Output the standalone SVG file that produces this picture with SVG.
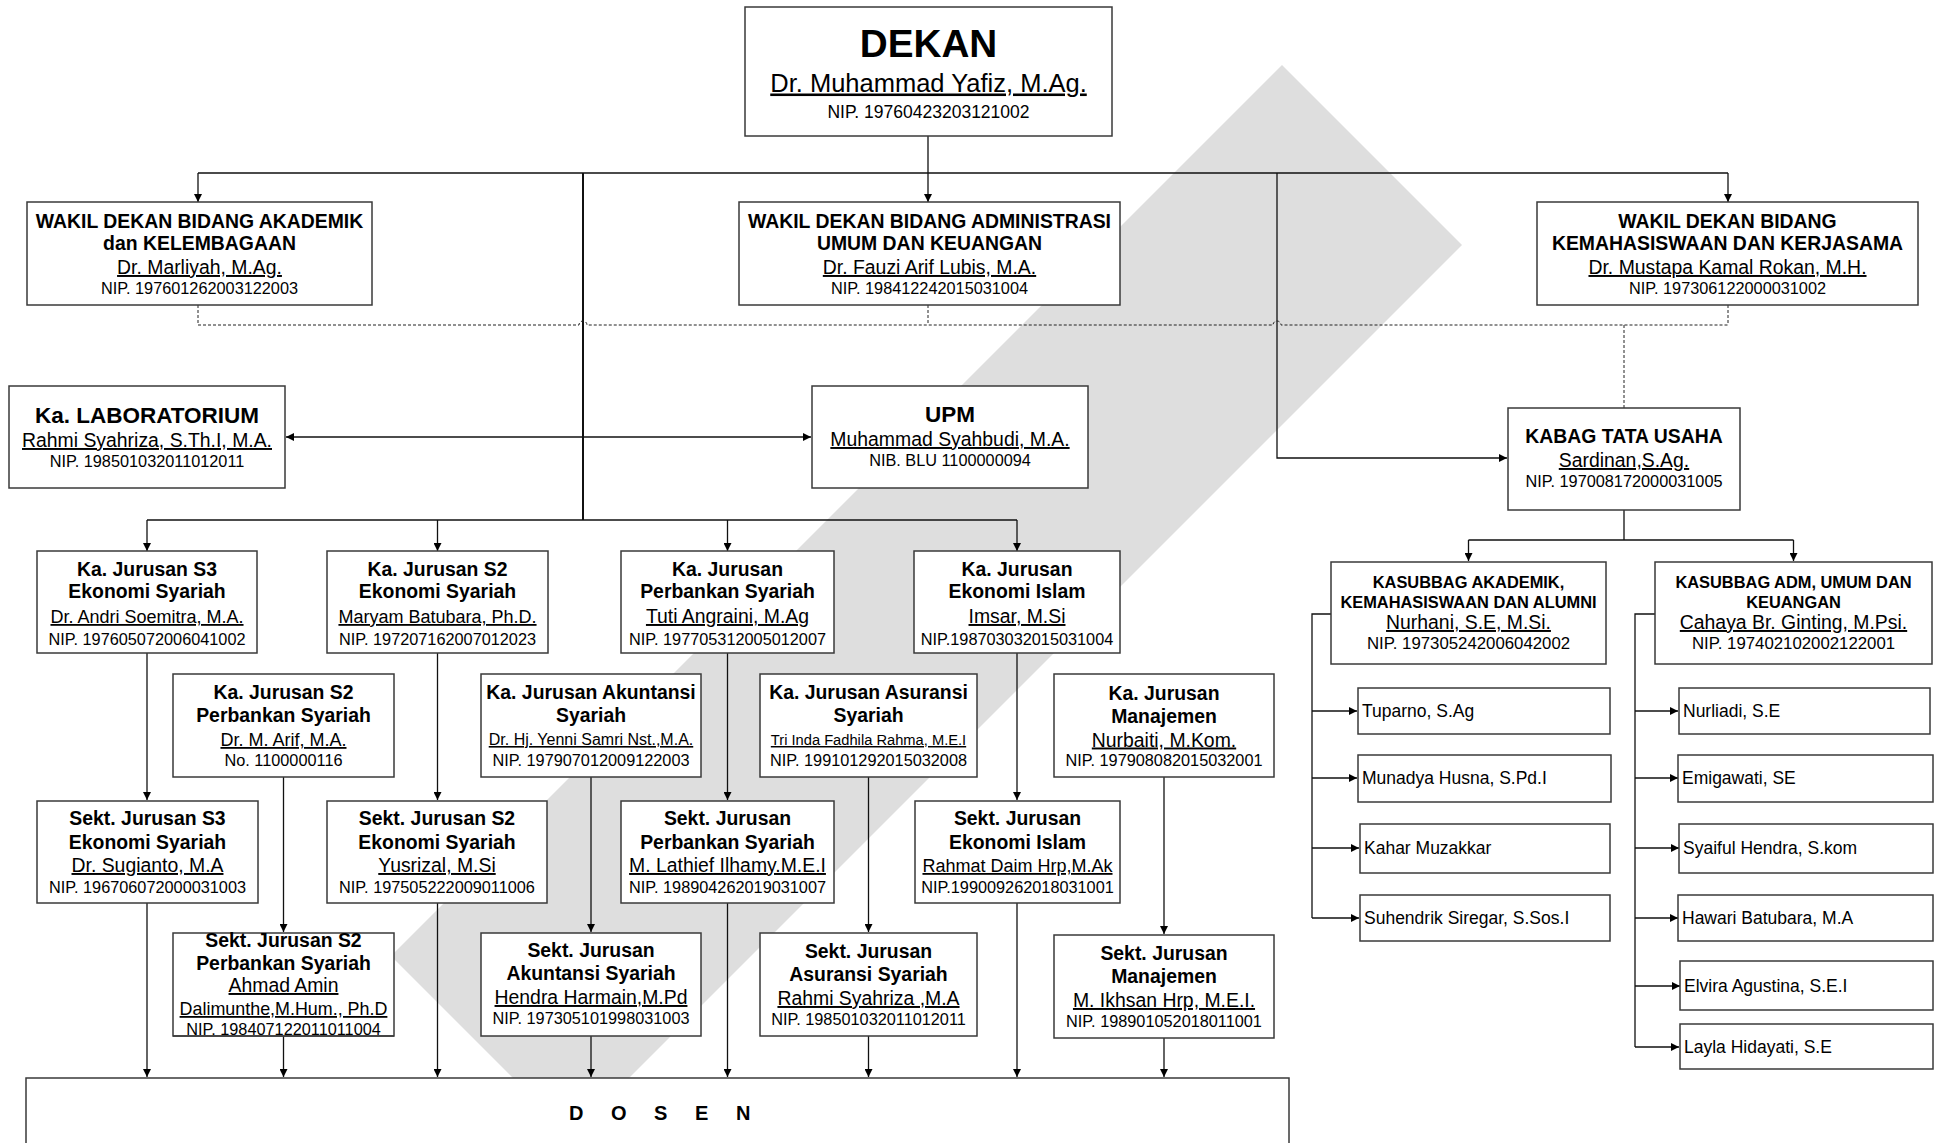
<svg xmlns="http://www.w3.org/2000/svg" width="1940" height="1143" viewBox="0 0 1940 1143">
<defs>
<marker id="ah" viewBox="0 0 10 10" refX="10" refY="5" markerWidth="9" markerHeight="8" markerUnits="userSpaceOnUse" orient="auto"><path d="M0,0 L10,5 L0,10 z" fill="#000"/></marker>
<style>
.b{fill:#fff;stroke:#3a3a3a;stroke-width:1.5}
text{font-family:"Liberation Sans",Arial,sans-serif;fill:#000;text-anchor:middle}
.t{font-weight:bold;font-size:19.4px}
.n{font-size:19.4px;text-decoration:underline}
.p{font-size:16.3px}
.s{font-size:17.5px;text-anchor:start}
.c{fill:none;stroke:#111;stroke-width:1.3}
.a{marker-end:url(#ah)}
.d{fill:none;stroke:#222;stroke-width:1;stroke-dasharray:3,2}
</style>
</defs>
<rect width="1940" height="1143" fill="#fff"/>
<polygon id="watermark" points="1282,65 1462,245 571,1136 391,956" fill="#dedede"/>

<g id="connectors">
<path class="c" d="M928,136 V173 M198,173 H1728"/>
<path class="c a" d="M198,173 V202"/>
<path class="c a" d="M928,173 V202"/>
<path class="c a" d="M1728,173 V202"/>
<path class="c" style="stroke-width:2" d="M583,173 V520"/>
<path class="c" d="M147,520 H1017"/>
<path class="c a" d="M147,520 V551"/>
<path class="c a" d="M437.5,520 V551"/>
<path class="c a" d="M727.5,520 V551"/>
<path class="c a" d="M1017,520 V551"/>
<path class="c a" d="M583,437 H286"/>
<path class="c a" d="M583,437 H811"/>
<path class="c a" d="M1277,173 V458 H1507"/>
<path class="d" d="M198,305 V325 M928,305 V325 M1728,305 V325 M198,325 H579 A4,4 0 0 1 587,325 H1273 A4,4 0 0 1 1281,325 H1728 M1624,325 V408"/>
<path class="c" d="M1624,510 V540 M1468.5,540 H1793.5"/>
<path class="c a" d="M1468.5,540 V561"/>
<path class="c a" d="M1793.5,540 V561"/>
<path class="c" d="M1331,614 H1312 V918"/>
<path class="c a" d="M1312,711 H1357"/>
<path class="c a" d="M1312,778 H1357"/>
<path class="c a" d="M1312,848 H1359"/>
<path class="c a" d="M1312,918 H1359"/>
<path class="c" d="M1655,614 H1635 V1047"/>
<path class="c a" d="M1635,711 H1678"/>
<path class="c a" d="M1635,778 H1678"/>
<path class="c a" d="M1635,848 H1679"/>
<path class="c a" d="M1635,918 H1678"/>
<path class="c a" d="M1635,986 H1680"/>
<path class="c a" d="M1635,1047 H1679"/>
<path class="c a" d="M147,653 V800"/>
<path class="c a" d="M437.5,653 V800"/>
<path class="c a" d="M727.5,653 V800"/>
<path class="c a" d="M1017,653 V800"/>
<path class="c a" d="M283.5,777 V932"/>
<path class="c a" d="M591,777 V932"/>
<path class="c a" d="M868.5,777 V932"/>
<path class="c a" d="M1164,777 V934"/>
<path class="c a" d="M147,903 V1077"/>
<path class="c a" d="M437.5,903 V1077"/>
<path class="c a" d="M727.5,903 V1077"/>
<path class="c a" d="M1017,903 V1077"/>
<path class="c a" d="M283.5,1036 V1077"/>
<path class="c a" d="M591,1036 V1077"/>
<path class="c a" d="M868.5,1036 V1077"/>
<path class="c a" d="M1164,1038 V1077"/>
</g>

<g id="dekan">
<rect class="b" x="745" y="7" width="367" height="129"/>
<text x="928.5" y="56.5" style="font-weight:bold;font-size:38.7px">DEKAN</text>
<text x="928.5" y="91.5" class="n" style="font-size:25.5px">Dr. Muhammad Yafiz, M.Ag.</text>
<text x="928.5" y="118" class="p" style="font-size:17.5px">NIP. 19760423203121002</text>
</g>

<g id="wakil1">
<rect class="b" x="27" y="202" width="345" height="103"/>
<text x="199.5" y="228" class="t">WAKIL DEKAN BIDANG AKADEMIK</text>
<text x="199.5" y="250" class="t">dan KELEMBAGAAN</text>
<text x="199.5" y="274" class="n">Dr. Marliyah, M.Ag.</text>
<text x="199.5" y="294" class="p">NIP. 197601262003122003</text>
</g>
<g id="wakil2">
<rect class="b" x="739" y="202" width="381" height="103"/>
<text x="929.5" y="228" class="t">WAKIL DEKAN BIDANG ADMINISTRASI</text>
<text x="929.5" y="250" class="t">UMUM DAN KEUANGAN</text>
<text x="929.5" y="274" class="n">Dr. Fauzi Arif Lubis, M.A.</text>
<text x="929.5" y="294" class="p">NIP. 198412242015031004</text>
</g>
<g id="wakil3">
<rect class="b" x="1537" y="202" width="381" height="103"/>
<text x="1727.5" y="228" class="t">WAKIL DEKAN BIDANG</text>
<text x="1727.5" y="250" class="t">KEMAHASISWAAN DAN KERJASAMA</text>
<text x="1727.5" y="274" class="n">Dr. Mustapa Kamal Rokan, M.H.</text>
<text x="1727.5" y="294" class="p">NIP. 197306122000031002</text>
</g>

<g id="lab">
<rect class="b" x="9" y="386" width="276" height="102"/>
<text x="147" y="423" class="t" style="font-size:22.5px">Ka. LABORATORIUM</text>
<text x="147" y="447" class="n">Rahmi Syahriza, S.Th.I, M.A.</text>
<text x="147" y="467" class="p">NIP. 198501032011012011</text>
</g>
<g id="upm">
<rect class="b" x="812" y="386" width="276" height="102"/>
<text x="950" y="422" class="t" style="font-size:22.5px">UPM</text>
<text x="950" y="446" class="n">Muhammad Syahbudi, M.A.</text>
<text x="950" y="466" class="p">NIB. BLU 1100000094</text>
</g>
<g id="kabag">
<rect class="b" x="1508" y="408" width="232" height="102"/>
<text x="1624" y="443" class="t">KABAG TATA USAHA</text>
<text x="1624" y="467" class="n">Sardinan,S.Ag.</text>
<text x="1624" y="487" class="p">NIP. 197008172000031005</text>
</g>

<g id="ka-s3">
<rect class="b" x="37" y="551" width="220" height="102"/>
<text x="147" y="576" class="t">Ka. Jurusan S3</text>
<text x="147" y="598" class="t">Ekonomi Syariah</text>
<text x="147" y="623" class="n" style="font-size:18px">Dr. Andri Soemitra, M.A.</text>
<text x="147" y="645" class="p">NIP. 197605072006041002</text>
</g>
<g id="ka-s2">
<rect class="b" x="327" y="551" width="221" height="102"/>
<text x="437.5" y="576" class="t">Ka. Jurusan S2</text>
<text x="437.5" y="598" class="t">Ekonomi Syariah</text>
<text x="437.5" y="623" class="n" style="font-size:18px">Maryam Batubara, Ph.D.</text>
<text x="437.5" y="645" class="p">NIP. 197207162007012023</text>
</g>
<g id="ka-perbankan">
<rect class="b" x="621" y="551" width="213" height="102"/>
<text x="727.5" y="576" class="t">Ka. Jurusan</text>
<text x="727.5" y="598" class="t">Perbankan Syariah</text>
<text x="727.5" y="623" class="n">Tuti Angraini, M.Ag</text>
<text x="727.5" y="645" class="p">NIP. 197705312005012007</text>
</g>
<g id="ka-ekonomi-islam">
<rect class="b" x="914" y="551" width="206" height="102"/>
<text x="1017" y="576" class="t">Ka. Jurusan</text>
<text x="1017" y="598" class="t">Ekonomi Islam</text>
<text x="1017" y="623" class="n">Imsar, M.Si</text>
<text x="1017" y="645" class="p">NIP.198703032015031004</text>
</g>

<g id="kasubbag1">
<rect class="b" x="1331" y="562" width="275" height="102"/>
<text x="1468.5" y="588" class="t" style="font-size:16.4px">KASUBBAG AKADEMIK,</text>
<text x="1468.5" y="608" class="t" style="font-size:16.4px">KEMAHASISWAAN DAN ALUMNI</text>
<text x="1468.5" y="629" class="n">Nurhani, S.E, M.Si.</text>
<text x="1468.5" y="649" class="p" style="font-size:16.8px">NIP. 197305242006042002</text>
</g>
<g id="kasubbag2">
<rect class="b" x="1655" y="562" width="277" height="102"/>
<text x="1793.5" y="588" class="t" style="font-size:16.4px">KASUBBAG ADM, UMUM DAN</text>
<text x="1793.5" y="608" class="t" style="font-size:16.4px">KEUANGAN</text>
<text x="1793.5" y="629" class="n">Cahaya Br. Ginting, M.Psi.</text>
<text x="1793.5" y="649" class="p" style="font-size:16.8px">NIP. 197402102002122001</text>
</g>

<g id="ka-s2-perbankan">
<rect class="b" x="173" y="674" width="221" height="103"/>
<text x="283.5" y="699" class="t">Ka. Jurusan S2</text>
<text x="283.5" y="721.5" class="t">Perbankan Syariah</text>
<text x="283.5" y="746" class="n" style="font-size:18px">Dr. M. Arif, M.A.</text>
<text x="283.5" y="766" class="p">No. 1100000116</text>
</g>
<g id="ka-akuntansi">
<rect class="b" x="481" y="674" width="220" height="103"/>
<text x="591" y="699" class="t">Ka. Jurusan Akuntansi</text>
<text x="591" y="721.5" class="t">Syariah</text>
<text x="591" y="745" class="n" style="font-size:16px">Dr. Hj. Yenni Samri Nst.,M.A.</text>
<text x="591" y="766" class="p">NIP. 197907012009122003</text>
</g>
<g id="ka-asuransi">
<rect class="b" x="760" y="674" width="217" height="103"/>
<text x="868.5" y="699" class="t">Ka. Jurusan Asuransi</text>
<text x="868.5" y="721.5" class="t">Syariah</text>
<text x="868.5" y="745" class="n" style="font-size:14.7px">Tri Inda Fadhila Rahma, M.E.I</text>
<text x="868.5" y="766" class="p">NIP. 199101292015032008</text>
</g>
<g id="ka-manajemen">
<rect class="b" x="1054" y="674" width="220" height="103"/>
<text x="1164" y="700" class="t">Ka. Jurusan</text>
<text x="1164" y="722.5" class="t">Manajemen</text>
<text x="1164" y="746.5" class="n">Nurbaiti, M.Kom.</text>
<text x="1164" y="766" class="p">NIP. 197908082015032001</text>
</g>

<g id="sekt-s3">
<rect class="b" x="37" y="801" width="221" height="102"/>
<text x="147.5" y="825" class="t">Sekt. Jurusan S3</text>
<text x="147.5" y="849" class="t">Ekonomi Syariah</text>
<text x="147.5" y="872" class="n">Dr. Sugianto, M.A</text>
<text x="147.5" y="893" class="p">NIP. 196706072000031003</text>
</g>
<g id="sekt-s2">
<rect class="b" x="327" y="801" width="220" height="102"/>
<text x="437" y="825" class="t">Sekt. Jurusan S2</text>
<text x="437" y="849" class="t">Ekonomi Syariah</text>
<text x="437" y="872" class="n">Yusrizal, M.Si</text>
<text x="437" y="893" class="p">NIP. 197505222009011006</text>
</g>
<g id="sekt-perbankan">
<rect class="b" x="621" y="801" width="213" height="102"/>
<text x="727.5" y="825" class="t">Sekt. Jurusan</text>
<text x="727.5" y="849" class="t">Perbankan Syariah</text>
<text x="727.5" y="872" class="n">M. Lathief Ilhamy.M.E.I</text>
<text x="727.5" y="893" class="p">NIP. 198904262019031007</text>
</g>
<g id="sekt-ekonomi-islam">
<rect class="b" x="915" y="801" width="205" height="102"/>
<text x="1017.5" y="825" class="t">Sekt. Jurusan</text>
<text x="1017.5" y="849" class="t">Ekonomi Islam</text>
<text x="1017.5" y="872" class="n" style="font-size:18px">Rahmat Daim Hrp,M.Ak</text>
<text x="1017.5" y="893" class="p">NIP.199009262018031001</text>
</g>

<g id="sekt-s2-perbankan">
<rect class="b" x="173" y="933" width="221" height="103"/>
<text x="283.5" y="946.5" class="t">Sekt. Jurusan S2</text>
<text x="283.5" y="970" class="t">Perbankan Syariah</text>
<text x="283.5" y="992" class="n">Ahmad Amin</text>
<text x="283.5" y="1015" class="n" style="font-size:17.9px">Dalimunthe,M.Hum., Ph.D</text>
<text x="283.5" y="1035" class="p">NIP. 198407122011011004</text>
<path d="M173,1036 H394" stroke="#3a3a3a" stroke-width="1.5"/>
</g>
<g id="sekt-akuntansi">
<rect class="b" x="481" y="933" width="220" height="103"/>
<text x="591" y="957" class="t">Sekt. Jurusan</text>
<text x="591" y="980" class="t">Akuntansi Syariah</text>
<text x="591" y="1004" class="n">Hendra Harmain,M.Pd</text>
<text x="591" y="1024" class="p">NIP. 197305101998031003</text>
</g>
<g id="sekt-asuransi">
<rect class="b" x="760" y="933" width="217" height="103"/>
<text x="868.5" y="958" class="t">Sekt. Jurusan</text>
<text x="868.5" y="981" class="t">Asuransi Syariah</text>
<text x="868.5" y="1005" class="n">Rahmi Syahriza ,M.A</text>
<text x="868.5" y="1025" class="p">NIP. 198501032011012011</text>
</g>
<g id="sekt-manajemen">
<rect class="b" x="1054" y="935" width="220" height="103"/>
<text x="1164" y="960" class="t">Sekt. Jurusan</text>
<text x="1164" y="983" class="t">Manajemen</text>
<text x="1164" y="1007" class="n">M. Ikhsan Hrp, M.E.I.</text>
<text x="1164" y="1027" class="p">NIP. 198901052018011001</text>
</g>

<g id="dosen">
<rect class="b" x="26" y="1078" width="1263" height="90"/>
<text x="569" y="1120" style="font-weight:bold;font-size:20px;text-anchor:start;letter-spacing:11px">D O S E N</text>
</g>

<g id="staff-akademik">
<g id="tuparno"><rect class="b" x="1358" y="688" width="252" height="46"/><text x="1362" y="717" class="s">Tuparno, S.Ag</text></g>
<g id="munadya"><rect class="b" x="1358" y="755" width="253" height="47"/><text x="1362" y="784" class="s">Munadya Husna, S.Pd.I</text></g>
<g id="kahar"><rect class="b" x="1360" y="824" width="250" height="49"/><text x="1364" y="854" class="s">Kahar Muzakkar</text></g>
<g id="suhendrik"><rect class="b" x="1360" y="895" width="250" height="46"/><text x="1364" y="924" class="s">Suhendrik Siregar, S.Sos.I</text></g>
</g>
<g id="staff-umum">
<g id="nurliadi"><rect class="b" x="1679" y="688" width="251" height="46"/><text x="1683" y="717" class="s">Nurliadi, S.E</text></g>
<g id="emigawati"><rect class="b" x="1678" y="755" width="255" height="47"/><text x="1682" y="784" class="s">Emigawati, SE</text></g>
<g id="syaiful"><rect class="b" x="1679" y="824" width="254" height="49"/><text x="1683" y="854" class="s">Syaiful Hendra, S.kom</text></g>
<g id="hawari"><rect class="b" x="1678" y="895" width="255" height="46"/><text x="1682" y="924" class="s">Hawari Batubara, M.A</text></g>
<g id="elvira"><rect class="b" x="1680" y="961" width="253" height="49"/><text x="1684" y="992" class="s">Elvira Agustina, S.E.I</text></g>
<g id="layla"><rect class="b" x="1680" y="1024" width="253" height="45"/><text x="1684" y="1053" class="s">Layla Hidayati, S.E</text></g>
</g>
</svg>
